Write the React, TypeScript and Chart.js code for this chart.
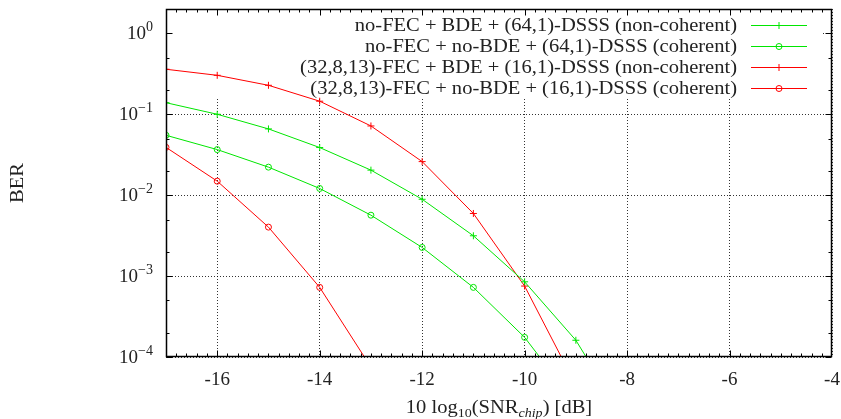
import React, { useEffect, useRef } from 'react';
import { Chart, registerables } from 'chart.js';

Chart.register(...registerables);

// ---------- data ----------
const snrDb = [-17, -16, -15, -14, -13, -12, -11, -10, -9, -8];
const berNoFecBdeNonCoh = [0.139, 0.1, 0.0659, 0.0388, 0.0204, 0.0089, 0.00315, 0.00085, 0.000161, 0.000015];
const berNoFecNoBdeCoh = [0.055, 0.0366, 0.0222, 0.0121, 0.00566, 0.00226, 0.000725, 0.000175, 0.000026];
const berFecBdeNonCoh = [0.36, 0.303, 0.228, 0.145, 0.0717, 0.026, 0.00594, 0.000753, 0.000045];
const berFecNoBdeCoh = [0.039, 0.0149, 0.00403, 0.000725, 0.000075];

const seriesLabels = [
  'no-FEC + BDE + (64,1)-DSSS (non-coherent)',
  'no-FEC + no-BDE + (64,1)-DSSS (coherent)',
  '(32,8,13)-FEC + BDE + (16,1)-DSSS (non-coherent)',
  '(32,8,13)-FEC + no-BDE + (16,1)-DSSS (coherent)',
];

const xMajorTicks = [-16, -14, -12, -10, -8, -6, -4];
const xTickLabels = ['-16', '-14', '-12', '-10', '-8', '-6', '-4'];
const yMajorTicks = [1e-4, 1e-3, 1e-2, 1e-1, 1];
const yMinorTicks = [2e-4, 5e-4, 2e-3, 5e-3, 2e-2, 5e-2, 0.2, 0.5];
const yTickExponents = ['\u22124', '\u22123', '\u22122', '\u22121', '0'];

const GREEN = '#00e600';
const RED = '#ff0000';
const FONT = '"Liberation Serif", "Times New Roman", serif';
const TEXT = '#222';
const SX = 1.08; // horizontal stretch to mimic Computer Modern proportions

const toPoints = (arr: number[]) => arr.map((y, i) => ({ x: snrDb[i], y }));

type Seg = { t: string; size: number; italic?: boolean; dy?: number };

function drawRich(
  ctx: CanvasRenderingContext2D,
  segs: Seg[],
  x: number,
  y: number,
  align: 'center' | 'right',
  sx: number
) {
  let total = 0;
  const widths = segs.map((s) => {
    ctx.font = `${s.italic ? 'italic ' : ''}${s.size}px ${FONT}`;
    const w = ctx.measureText(s.t).width * sx;
    total += w;
    return w;
  });
  let cx = align === 'center' ? x - total / 2 : x - total;
  segs.forEach((s, i) => {
    ctx.save();
    ctx.font = `${s.italic ? 'italic ' : ''}${s.size}px ${FONT}`;
    ctx.textAlign = 'left';
    ctx.textBaseline = 'alphabetic';
    ctx.translate(cx, y + (s.dy || 0));
    ctx.scale(sx, 1);
    ctx.fillText(s.t, 0, 0);
    ctx.restore();
    cx += widths[i];
  });
}

function drawMarker(ctx: CanvasRenderingContext2D, style: string, x: number, y: number, color: string) {
  ctx.save();
  ctx.strokeStyle = color;
  ctx.lineWidth = 1;
  ctx.beginPath();
  if (style === 'cross') {
    ctx.moveTo(x - 3.5, y);
    ctx.lineTo(x + 3.5, y);
    ctx.moveTo(x, y - 3.5);
    ctx.lineTo(x, y + 3.5);
  } else {
    ctx.arc(x, y, 3, 0, Math.PI * 2);
  }
  ctx.stroke();
  ctx.restore();
}

const keyPlugin = {
  id: 'gnuKey',
  beforeDatasetsDraw(chart: any) {
    const { ctx, chartArea: ca } = chart;
    ctx.save();
    // opaque key background
    ctx.fillStyle = '#ffffff';
    ctx.fillRect(ca.left + 1, ca.top + 1, ca.right - 12 - ca.left, 89);
    const textRight = ca.right - 95;
    const lineL = ca.right - 81;
    const lineR = ca.right - 25;
    chart.data.datasets.forEach((ds: any, i: number) => {
      const y = ca.top + 16 + i * 21;
      ctx.fillStyle = TEXT;
      drawRich(ctx, [{ t: ds.label, size: 19 }], textRight, y + 6, 'right', SX);
      ctx.strokeStyle = ds.borderColor;
      ctx.lineWidth = 1;
      ctx.beginPath();
      ctx.moveTo(lineL, Math.round(y) + 0.5);
      ctx.lineTo(lineR, Math.round(y) + 0.5);
      ctx.stroke();
      drawMarker(ctx, ds.pointStyle, (lineL + lineR) / 2, Math.round(y) + 0.5, ds.borderColor);
    });
    ctx.restore();
  },
  afterDatasetsDraw(chart: any) {
    const { ctx, chartArea: ca, scales } = chart;
    const xs = scales.x;
    const ys = scales.y;
    const L = Math.round(ca.left) + 0.5;
    const R = Math.round(ca.right) - 0.5;
    const T = Math.round(ca.top) + 0.5;
    const B = Math.round(ca.bottom) - 0.5;
    ctx.save();
    ctx.strokeStyle = '#000';
    ctx.lineWidth = 1;
    ctx.beginPath();
    // x ticks (major + minor every 0.2 dB)
    for (let k = 1; k < 65; k++) {
      const v = -17 + k * 0.2;
      const px = Math.round(xs.getPixelForValue(v)) + 0.5;
      const isMajor = xMajorTicks.some((m) => Math.abs(m - v) < 1e-6);
      const len = isMajor ? 6 : 3;
      ctx.moveTo(px, B);
      ctx.lineTo(px, B - len);
      ctx.moveTo(px, T);
      ctx.lineTo(px, T + len);
    }
    // y ticks
    yMajorTicks.forEach((v) => {
      const py = Math.round(ys.getPixelForValue(v)) + 0.5;
      ctx.moveTo(L, py);
      ctx.lineTo(L + 6, py);
      ctx.moveTo(R, py);
      ctx.lineTo(R - 6, py);
    });
    yMinorTicks.forEach((v) => {
      const py = Math.round(ys.getPixelForValue(v)) + 0.5;
      ctx.moveTo(L, py);
      ctx.lineTo(L + 3, py);
      ctx.moveTo(R, py);
      ctx.lineTo(R - 3, py);
    });
    ctx.stroke();
    // frame
    ctx.lineWidth = 1.5;
    ctx.strokeRect(L, T, R - L, B - T);

    // tick labels
    ctx.fillStyle = TEXT;
    xMajorTicks.forEach((v, i) => {
      drawRich(ctx, [{ t: xTickLabels[i], size: 19 }], xs.getPixelForValue(v), ca.bottom + 28, 'center', 1);
    });
    yMajorTicks.forEach((v, i) => {
      const py = ys.getPixelForValue(v);
      drawRich(
        ctx,
        [
          { t: '10', size: 19 },
          { t: yTickExponents[i], size: 14, dy: -8 },
        ],
        ca.left - 13,
        py + 6,
        'right',
        1
      );
    });
    // axis titles
    drawRich(
      ctx,
      [
        { t: '10 log', size: 19 },
        { t: '10', size: 13, dy: 4 },
        { t: '(SNR', size: 19 },
        { t: 'chip', size: 13, italic: true, dy: 4 },
        { t: ') [dB]', size: 19 },
      ],
      (ca.left + ca.right) / 2,
      ca.bottom + 56,
      'center',
      SX
    );
    ctx.save();
    ctx.translate(23, (ca.top + ca.bottom) / 2);
    ctx.rotate(-Math.PI / 2);
    drawRich(ctx, [{ t: 'BER', size: 19 }], 0, 0, 'center', SX);
    ctx.restore();
    ctx.restore();
  },
};

export default function App() {
  const ref = useRef<HTMLCanvasElement>(null);
  useEffect(() => {
    document.body.style.margin = '0';
    const mk = (label: string, data: number[], color: string, style: string) => ({
      label,
      data: toPoints(data),
      borderColor: color,
      backgroundColor: 'transparent',
      borderWidth: 1,
      pointStyle: style,
      pointRadius: style === 'cross' ? 3.5 : 3,
      pointBorderColor: color,
      pointBackgroundColor: 'transparent',
      pointBorderWidth: 1,
      tension: 0,
    });
    const chart = new Chart(ref.current as HTMLCanvasElement, {
      type: 'line',
      data: {
        datasets: [
          mk(seriesLabels[0], berNoFecBdeNonCoh, GREEN, 'cross'),
          mk(seriesLabels[1], berNoFecNoBdeCoh, GREEN, 'circle'),
          mk(seriesLabels[2], berFecBdeNonCoh, RED, 'cross'),
          mk(seriesLabels[3], berFecNoBdeCoh, RED, 'circle'),
        ] as any,
      },
      options: {
        responsive: false,
        animation: false,
        devicePixelRatio: 1,
        layout: { padding: { left: 166, right: 9, top: 9, bottom: 62 } },
        plugins: { legend: { display: false }, tooltip: { enabled: false } },
        scales: {
          x: {
            type: 'linear',
            min: -17,
            max: -4,
            afterBuildTicks: (s: any) => {
              s.ticks = xMajorTicks.map((v) => ({ value: v }));
            },
            ticks: { display: false },
            grid: { color: 'rgba(0,0,0,0.8)', lineWidth: 1, drawTicks: false },
            border: { display: false, dash: [1, 2] },
          },
          y: {
            type: 'logarithmic',
            min: 1e-4,
            max: 2,
            afterBuildTicks: (s: any) => {
              s.ticks = yMajorTicks.map((v) => ({ value: v }));
            },
            ticks: { display: false },
            grid: { color: 'rgba(0,0,0,0.8)', lineWidth: 1, drawTicks: false },
            border: { display: false, dash: [1, 2] },
          },
        },
      } as any,
      plugins: [keyPlugin],
    });
    return () => chart.destroy();
  }, []);
  return (
    <div style={{ width: 841, height: 419 }}>
      <canvas ref={ref} width={841} height={419} style={{ display: 'block' }} />
    </div>
  );
}
